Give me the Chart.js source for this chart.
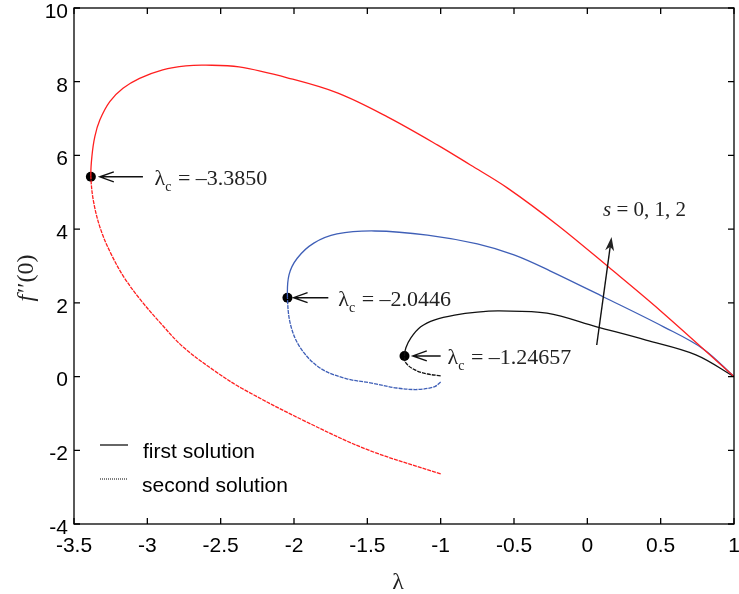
<!DOCTYPE html>
<html>
<head>
<meta charset="utf-8">
<script src="https://cdn.jsdelivr.net/npm/chart.js@4.4.1/dist/chart.umd.min.js"></script>
<style>
  html, body { margin: 0; padding: 0; background: #fff; }
  #wrap { width: 739px; height: 594px; }
</style>
</head>
<body>
<div id="wrap"><canvas id="c" width="739" height="594"></canvas></div>
<script>
// lambda (x) and f''(0) (y), one branch per array,
// each branch starts at its critical point
const redUpperX = [-3.385, -3.378, -3.358, -3.324, -3.256, -3.166, -3.053, -2.895, -2.737, -2.60, -2.375, -2.04, -1.70, -1.36, -1.02, -0.797, -0.546, -0.2, 0.145, 0.5, 1.0];
const redUpperY = [5.42, 5.97, 6.51, 6.96, 7.46, 7.82, 8.09, 8.32, 8.43, 8.45, 8.40, 8.10, 7.69, 7.04, 6.28, 5.74, 5.12, 4.1, 2.97, 1.78, 0];
const redLowerX = [-3.385, -3.365, -3.317, -3.25, -3.16, -3.046, -2.91, -2.755, -2.55, -2.36, -1.93, -1.495, -1.0];
const redLowerY = [5.42, 4.71, 3.98, 3.35, 2.70, 2.08, 1.45, 0.80, 0.18, -0.31, -1.2, -1.99, -2.64];

const blueUpperX = [-2.0446, -2.034, -1.978, -1.865, -1.707, -1.45, -1.09, -0.75, -0.5, -0.255, 0.111, 0.52, 0.79, 1.0];
const blueUpperY = [2.14, 2.76, 3.21, 3.62, 3.87, 3.95, 3.84, 3.6, 3.3, 2.87, 2.16, 1.35, 0.75, 0];
const blueLowerX = [-2.0446, -2.023, -1.955, -1.82, -1.64, -1.48, -1.3, -1.15, -1.04, -1.0];
const blueLowerY = [2.14, 1.40, 0.77, 0.225, -0.06, -0.17, -0.31, -0.35, -0.27, -0.15];

const blackUpperX = [-1.24657, -1.237, -1.203, -1.136, -1.04, -0.905, -0.75, -0.6, -0.275, 0.064, 0.40, 0.74, 1.0];
const blackUpperY = [0.56, 0.78, 1.05, 1.35, 1.54, 1.67, 1.75, 1.78, 1.72, 1.35, 0.99, 0.59, 0];
const blackLowerX = [-1.24657, -1.237, -1.176, -1.088, -1.0];
const blackLowerY = [0.56, 0.37, 0.18, 0.07, 0.02];

// critical points
const critX = [-3.3850, -2.0446, -1.24657];
const critY = [5.42, 2.14, 0.56];
const critText = ['\u20133.3850', '\u20132.0446', '\u20131.24657'];

const xTicks = { min: -3.5, max: 1, step: 0.5 };
const yTicks = { min: -4, max: 10, step: 2 };

// where the labels/arrows go (data units)
const labelStartX = [-2.951, -1.698, -0.953];
const arrowTailX = [-3.03, -1.766, -1.0];
const arrowTipX = [-3.324, -2.003, -1.19];
const sArrow = { x0: 0.064, y0: 0.857, x1: 0.165, y1: 3.79 };

const RED = '#ff1f1f', BLUE = '#3f5fb7', BLACK = '#111';

function zip(xs, ys) {
  return xs.map((v, i) => ({ x: v, y: ys[i] }));
}

// one continuous curve: lower branch (reversed, dotted) then upper branch (solid)
function curve(upX, upY, loX, loY, color) {
  const lower = zip(loX, loY).reverse();
  const upper = zip(upX, upY).slice(1);
  const nLow = lower.length - 1;
  return {
    data: lower.concat(upper),
    showLine: true,
    borderColor: color,
    borderWidth: 1.3,
    pointRadius: 0,
    tension: 0.35,
    fill: false,
    segment: {
      borderDash: c => (c.p0DataIndex < nLow ? [4, 1] : undefined)
    }
  };
}

const overlay = {
  id: 'overlay',
  afterDraw(chart) {
    const ctx = chart.ctx;
    const a = chart.chartArea;
    const x = chart.scales.x, y = chart.scales.y;
    ctx.save();
    ctx.strokeStyle = '#000';
    ctx.lineWidth = 1.3;
    ctx.strokeRect(a.left, a.top, a.right - a.left, a.bottom - a.top);

    // inward ticks on all four sides
    ctx.beginPath();
    x.ticks.forEach(t => {
      const px = x.getPixelForValue(t.value);
      ctx.moveTo(px, a.bottom); ctx.lineTo(px, a.bottom - 6);
      ctx.moveTo(px, a.top); ctx.lineTo(px, a.top + 6);
    });
    y.ticks.forEach(t => {
      const py = y.getPixelForValue(t.value);
      ctx.moveTo(a.left, py); ctx.lineTo(a.left + 6, py);
      ctx.moveTo(a.right, py); ctx.lineTo(a.right - 6, py);
    });
    ctx.stroke();

    // lambda_c labels with arrows
    ctx.fillStyle = '#222';
    ctx.strokeStyle = '#111';
    ctx.lineWidth = 1.4;
    critX.forEach((cx, i) => {
      const py = y.getPixelForValue(critY[i]);
      const tail = x.getPixelForValue(arrowTailX[i]);
      const tip = x.getPixelForValue(arrowTipX[i]);
      ctx.beginPath();
      ctx.moveTo(tail, py); ctx.lineTo(tip, py);
      ctx.moveTo(tip + 14, py - 5); ctx.lineTo(tip, py); ctx.lineTo(tip + 14, py + 5);
      ctx.stroke();

      const sx = x.getPixelForValue(labelStartX[i]);
      const base = py + 8;
      ctx.textBaseline = 'alphabetic';
      ctx.textAlign = 'left';
      ctx.font = '22px "Liberation Serif"';
      ctx.fillText('\u03bb', sx, base);
      let w = ctx.measureText('\u03bb').width;
      ctx.font = '14px "Liberation Serif"';
      ctx.fillText('c', sx + w, base + 6);
      w += ctx.measureText('c').width;
      ctx.font = '22px "Liberation Serif"';
      ctx.fillText(' = ' + critText[i], sx + w + 1, base);
    });

    // s = 0, 1, 2 arrow
    const ax0 = x.getPixelForValue(sArrow.x0), ay0 = y.getPixelForValue(sArrow.y0);
    const ax1 = x.getPixelForValue(sArrow.x1), ay1 = y.getPixelForValue(sArrow.y1);
    const ang = Math.atan2(ay1 - ay0, ax1 - ax0);
    const cs = Math.cos(ang), sn = Math.sin(ang);
    ctx.beginPath();
    ctx.moveTo(ax0, ay0); ctx.lineTo(ax1 - 8 * cs, ay1 - 8 * sn);
    ctx.stroke();
    ctx.beginPath();
    ctx.moveTo(ax1, ay1);
    ctx.lineTo(ax1 - 14 * cs + 4.5 * sn, ay1 - 14 * sn - 4.5 * cs);
    ctx.lineTo(ax1 - 10 * cs, ay1 - 10 * sn);
    ctx.lineTo(ax1 - 14 * cs - 4.5 * sn, ay1 - 14 * sn + 4.5 * cs);
    ctx.closePath();
    ctx.fill();

    ctx.font = 'italic 21px "Liberation Serif"';
    ctx.fillText('s', 603, 216);
    const sw = ctx.measureText('s').width;
    ctx.font = '21px "Liberation Serif"';
    ctx.fillText(' = 0, 1, 2', 603 + sw, 216);

    // legend
    ctx.strokeStyle = '#000';
    ctx.lineWidth = 1.2;
    ctx.beginPath(); ctx.moveTo(100, 445); ctx.lineTo(128, 445); ctx.stroke();
    ctx.setLineDash([1, 1]);
    ctx.lineWidth = 1;
    ctx.beginPath(); ctx.moveTo(100, 479); ctx.lineTo(128, 479); ctx.stroke();
    ctx.setLineDash([]);
    ctx.fillStyle = '#000';
    ctx.font = '21px "Liberation Sans"';
    ctx.textBaseline = 'middle';
    ctx.fillText('first solution', 143, 452);
    ctx.fillText('second solution', 142, 486);

    // axis titles
    ctx.textAlign = 'center';
    ctx.textBaseline = 'alphabetic';
    ctx.fillStyle = '#222';
    ctx.font = '24px "Liberation Serif"';
    ctx.fillText('\u03bb', 398, 589);

    ctx.translate(33, 278);
    ctx.rotate(-Math.PI / 2);
    ctx.textAlign = 'left';
    const rest = '\u2032\u2032(0)';
    ctx.font = 'italic 24px "Liberation Serif"';
    const fw = ctx.measureText('f').width + 2;
    ctx.font = '24px "Liberation Serif"';
    const tw = fw + ctx.measureText(rest).width;
    ctx.font = 'italic 24px "Liberation Serif"';
    ctx.fillText('f', -tw / 2, 0);
    ctx.font = '24px "Liberation Serif"';
    ctx.fillText(rest, -tw / 2 + fw, 0);
    ctx.restore();
  }
};

new Chart(document.getElementById('c'), {
  type: 'scatter',
  data: {
    datasets: [
      curve(redUpperX, redUpperY, redLowerX, redLowerY, RED),
      curve(blueUpperX, blueUpperY, blueLowerX, blueLowerY, BLUE),
      curve(blackUpperX, blackUpperY, blackLowerX, blackLowerY, BLACK),
      {
        data: zip(critX, critY),
        showLine: false,
        pointRadius: 5,
        pointBackgroundColor: '#000',
        pointBorderColor: '#000',
        pointBorderWidth: 0
      }
    ]
  },
  options: {
    responsive: false,
    animation: false,
    layout: { padding: { top: 8, right: 1, left: 0, bottom: 0 } },
    plugins: { legend: { display: false }, tooltip: { enabled: false } },
    scales: {
      x: {
        type: 'linear',
        min: xTicks.min, max: xTicks.max,
        grid: { display: false, drawTicks: false },
        border: { display: false },
        ticks: {
          stepSize: xTicks.step, autoSkip: false, maxRotation: 0,
          padding: 10, color: '#000',
          font: { family: 'Liberation Sans', size: 21 },
          callback: v => String(v)
        },
        afterFit(s) { s.height = 70; s.paddingLeft = 0; s.paddingRight = 0; }
      },
      y: {
        type: 'linear',
        min: yTicks.min, max: yTicks.max,
        grid: { display: false, drawTicks: false },
        border: { display: false },
        ticks: {
          stepSize: yTicks.step, autoSkip: false,
          padding: 6, labelOffset: 4, color: '#000',
          font: { family: 'Liberation Sans', size: 21 },
          callback: v => String(v)
        },
        afterFit(s) { s.width = 74; s.paddingTop = 0; s.paddingBottom = 0; }
      }
    }
  },
  plugins: [overlay]
});
</script>
</body>
</html>
